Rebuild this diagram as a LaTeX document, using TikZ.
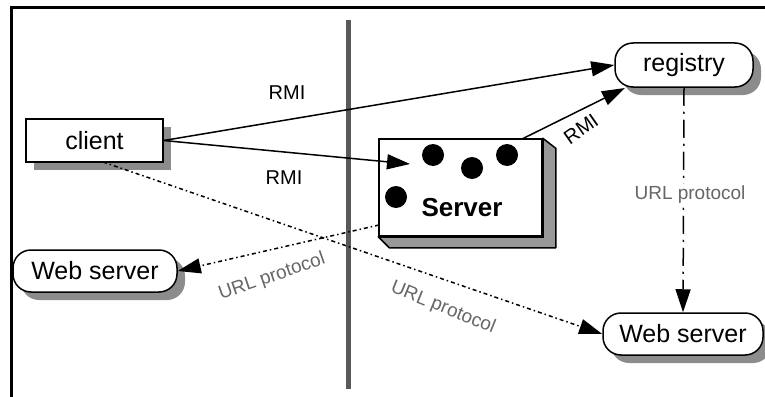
\documentclass[tikz,border=0pt]{standalone}
\usepackage{fontspec}
\setmainfont{Liberation Sans}
\usetikzlibrary{arrows.meta,shadows,calc}
\begin{document}
\begin{tikzpicture}[x=1pt,y=-1pt,
  box/.style={draw=black,line width=1.5pt,fill=white,inner sep=0pt,
    font=\fontsize{25}{28}\selectfont},
  shad/.style={drop shadow={shadow xshift=8pt,shadow yshift=-8pt,fill=black!45,opacity=1}},
  pill/.style={box,shad,rounded corners=18pt},
  tip/.style={-{Triangle[length=23pt,width=15pt]}},
  rmi/.style={draw=black,line width=1.5pt,tip},
  url/.style={draw=black,line width=1.5pt,tip,dash pattern=on 4pt off 3pt on 1.5pt off 3pt},
  urlv/.style={draw=black,line width=1.5pt,tip,dash pattern=on 18pt off 6pt on 2pt off 6pt},
  lab/.style={font=\fontsize{20}{22}\selectfont,inner sep=1pt},
  glab/.style={font=\fontsize{19}{22}\selectfont,text=black!60,inner sep=2pt}
]
\useasboundingbox (0,0) rectangle (765,396);
\fill[white] (0,0) rectangle (765,396);
% frame
\draw[line width=3pt] (11,397) -- (11,8) -- (766,8);
% divider
\draw[line width=5pt,draw=black!65] (348,20) -- (348,389);

% nodes
\node[box,shad,minimum width=137pt,minimum height=43pt] (client) at (94.5,140.5) {client};
\node[pill,minimum width=138pt,minimum height=44pt] (registry) at (684,65) {registry};
\node[pill,minimum width=164pt,minimum height=42pt] (webL) at (95,271) {Web server};
\node[pill,minimum width=160pt,minimum height=42pt] (webR) at (683,334) {Web server};

% server 3D box
\node[box,minimum width=163pt,minimum height=97pt] (server) at (460.5,187.5) {};
\filldraw[fill=black!40,draw=black,line width=1.5pt,line join=round]
  (server.north east) -- ([shift={(13,10)}]server.north east)
  -- ([shift={(13,11)}]server.south east) -- ([shift={(11,11)}]server.south west)
  -- (server.south west) -- (server.south east) -- cycle;
\draw[line width=1.5pt] (server.north west) rectangle (server.south east);
\fill[black] (433,155) circle (11);
\fill[black] (472,168) circle (11);
\fill[black] (507,155) circle (11);
\fill[black] (396,197) circle (11);
\node[font=\bfseries\fontsize{26}{30}\selectfont,inner sep=0pt] (stext) at (462,208) {Server};

% coordinates
\coordinate (sin) at (410,164);
\coordinate (stop) at (522,139);
\coordinate (regsw) at (625,88);
\coordinate (cbot) at (103,162);
\coordinate (sleft) at (379,225);

% connectors
\draw[rmi] (client.east) -- (registry.west);
\draw[rmi] (client.east) -- (sin);
\draw[rmi] (stop) -- (regsw);
\draw[url] (cbot) -- (webR.west);
\draw[url] (sleft) -- (webL.east);
\draw[urlv] (registry.south) -- (webR.north);

% labels
\node[lab] (l1) at (287,93) {RMI};
\node[lab] (l2) at (284,178) {RMI};
\node[lab,rotate=35] (l3) at (581,129) {RMI};
\node[glab,rotate=19] (l4) at (272,277) {URL protocol};
\node[glab,rotate=-22] (l5) at (443,308) {URL protocol};
\node[glab,fill=white] (l6) at (690,195) {URL protocol};
\end{tikzpicture}
\end{document}
